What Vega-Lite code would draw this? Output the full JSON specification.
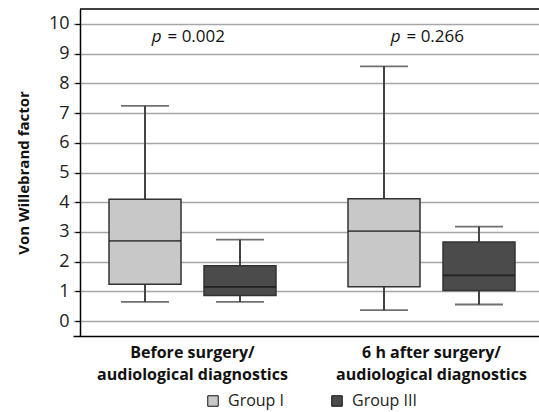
{
  "$schema": "https://vega.github.io/schema/vega-lite/v6.json",
  "width": 459,
  "height": 327,
  "autosize": {"type": "none"},
  "padding": {"left": 80, "top": 9, "right": 0, "bottom": 76},
  "config": {
    "view": {"stroke": null},
    "font": "Open Sans",
    "axisX": {
      "labelFont": "Open Sans",
      "labelAngle": 0,
      "ticks": false,
      "domainColor": "#000000",
      "domainWidth": 1.5,
      "labelFontSize": 16,
      "labelFontWeight": "bold",
      "labelColor": "#111111",
      "labelPadding": 8,
      "labelLineHeight": 22,
      "labelLimit": 300,
      "grid": false
    },
    "axisY": {
      "labelFont": "Open Sans",
      "titleFont": "Open Sans",
      "titleFontSize": 15,
      "titleFontWeight": "bold",
      "titleColor": "#111111",
      "titlePadding": 17,
      "tickCount": 11,
      "grid": true,
      "gridColor": "#a6a6a6",
      "gridWidth": 1.5,
      "domainColor": "#000000",
      "domainWidth": 1.5,
      "tickColor": "#000000",
      "tickSize": 5,
      "tickWidth": 1.2,
      "labelFontSize": 18,
      "labelColor": "#222222",
      "labelPadding": 6,
      "labelOverlap": false
    },
    "legend": {
      "labelFont": "Open Sans",
      "labelFontSize": 16,
      "labelColor": "#222222",
      "labelOffset": 7,
      "symbolType": "square",
      "symbolSize": 110,
      "symbolStrokeColor": "#111111",
      "symbolStrokeWidth": 1,
      "symbolOpacity": 1,
      "columnPadding": 44
    }
  },
  "datasets": {
    "boxes": [
      {"category": "Before surgery/ audiological diagnostics", "group": "Group I", "min": 0.65, "q1": 1.24, "median": 2.7, "q3": 4.1, "max": 7.24},
      {"category": "Before surgery/ audiological diagnostics", "group": "Group III", "min": 0.65, "q1": 0.86, "median": 1.15, "q3": 1.86, "max": 2.74},
      {"category": "6 h after surgery/ audiological diagnostics", "group": "Group I", "min": 0.37, "q1": 1.16, "median": 3.03, "q3": 4.12, "max": 8.57},
      {"category": "6 h after surgery/ audiological diagnostics", "group": "Group III", "min": 0.56, "q1": 1.03, "median": 1.54, "q3": 2.66, "max": 3.18}
    ],
    "pvals": [
      {"category": "Before surgery/ audiological diagnostics", "y": 9.55, "p": "p", "rest": "= 0.002"},
      {"category": "6 h after surgery/ audiological diagnostics", "y": 9.55, "p": "p", "rest": "= 0.266"}
    ],
    "frame": [{"top": 10.5}]
  },
  "data": {"name": "boxes"},
  "encoding": {
    "x": {
      "field": "category",
      "type": "nominal",
      "sort": ["Before surgery/ audiological diagnostics", "6 h after surgery/ audiological diagnostics"],
      "scale": {"range": [-7, 471], "paddingInner": 0, "paddingOuter": 0},
      "axis": {
        "title": null,
        "labelExpr": "[slice(datum.label, 0, indexof(datum.label, '/') + 1), slice(datum.label, indexof(datum.label, '/') + 2)]"
      }
    },
    "xOffset": {
      "field": "group",
      "type": "nominal",
      "sort": ["Group I", "Group III"],
      "scale": {"paddingOuter": 0.258, "paddingInner": 0}
    }
  },
  "layer": [
    {
      "mark": {"type": "rule", "color": "#444444", "strokeWidth": 2},
      "encoding": {
        "y": {
          "field": "min",
          "type": "quantitative",
          "scale": {"domain": [-0.5, 10.5], "nice": false, "zero": false},
          "axis": {"title": "Von Willebrand factor"}
        },
        "y2": {"field": "max"}
      }
    },
    {
      "mark": {"type": "tick", "color": "#333333", "thickness": 1.8, "size": 48},
      "encoding": {"y": {"field": "max", "type": "quantitative"}}
    },
    {
      "mark": {"type": "tick", "color": "#333333", "thickness": 1.8, "size": 48},
      "encoding": {"y": {"field": "min", "type": "quantitative"}}
    },
    {
      "mark": {"type": "bar", "width": 72, "stroke": "#333333", "strokeWidth": 1.5},
      "encoding": {
        "y": {"field": "q1", "type": "quantitative"},
        "y2": {"field": "q3"},
        "color": {
          "field": "group",
          "type": "nominal",
          "scale": {"domain": ["Group I", "Group III"], "range": ["#c8c8c8", "#4b4b4b"]},
          "legend": {
            "title": null,
            "orient": "none",
            "direction": "horizontal",
            "legendX": 125,
            "legendY": 384
          }
        }
      }
    },
    {
      "mark": {"type": "tick", "color": "#111111", "thickness": 1.8, "size": 72},
      "encoding": {"y": {"field": "median", "type": "quantitative"}}
    },
    {
      "data": {"name": "frame"},
      "mark": {"type": "rule", "color": "#000000", "strokeWidth": 1.5},
      "encoding": {"y": {"field": "top", "type": "quantitative"}, "x": null, "xOffset": null}
    },
    {
      "data": {"name": "pvals"},
      "mark": {"type": "text", "fontStyle": "italic", "fontSize": 17, "align": "right", "dx": -31, "color": "#111111"},
      "encoding": {"y": {"field": "y", "type": "quantitative"}, "text": {"field": "p"}, "xOffset": null}
    },
    {
      "data": {"name": "pvals"},
      "mark": {"type": "text", "fontSize": 17, "align": "left", "dx": -25, "color": "#111111"},
      "encoding": {"y": {"field": "y", "type": "quantitative"}, "text": {"field": "rest"}, "xOffset": null}
    }
  ]
}
